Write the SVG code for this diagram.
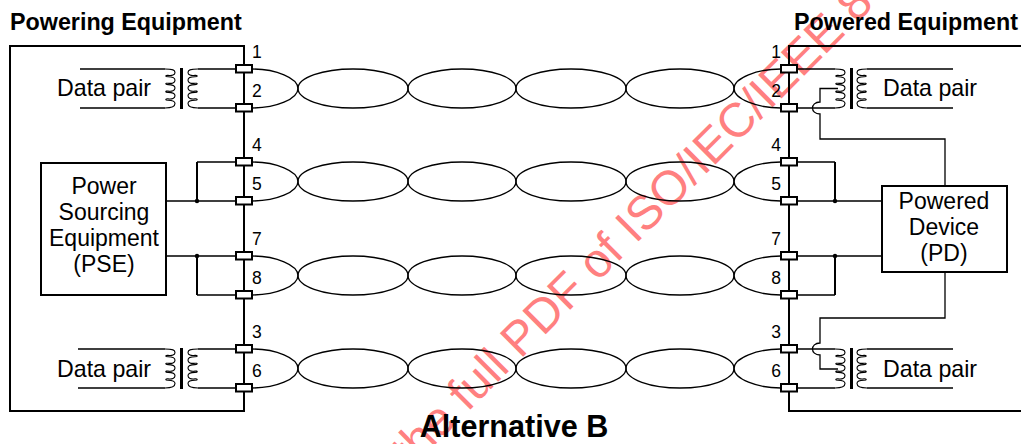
<svg xmlns="http://www.w3.org/2000/svg" xmlns:xlink="http://www.w3.org/1999/xlink" width="1021" height="444" viewBox="0 0 1021 444">
<style>
text{font-family:"Liberation Sans",Arial,sans-serif;fill:#000}
.t{font-size:23.2px}
.tm{font-size:23px;text-anchor:middle}
.b{font-size:23.3px;font-weight:bold}
.n{font-size:17.5px}
.ne{font-size:17.5px;text-anchor:end}
.w{fill:none;stroke:#000;stroke-width:1.3}
.h{fill:none;stroke:#000;stroke-width:2}
.c{fill:none;stroke:#000;stroke-width:1.1}
.box{fill:#fff;stroke:#000;stroke-width:2}
.core{fill:#000}
.wm{font-size:48px;fill:#ff8080}
</style>
<defs>
<path id="coilR" class="c" d="M0,0C8,0 10,1 10,3.4C10,6 7,7 3,6.4C0,6.2 0,7.8 3,7.8C8,7.8 10,8.8 10,11.2C10,13.8 7,14.8 3,14.2C0,14 0,15.6 3,15.6C8,15.6 10,16.6 10,19C10,21.6 7,22.6 3,22C0,21.8 0,23.4 3,23.4C8,23.4 10,24.4 10,26.8C10,29.4 7,30.4 3,29.8C0,29.6 0,31.2 3,31.2C8,31.2 10,32.2 10,34.6C10,37.2 8,39 0,39"/>
<path id="coilL" class="c" d="M10,0C2,0 0,1 0,3.4C0,6 3,7 7,6.4C10,6.2 10,7.8 7,7.8C2,7.8 0,8.8 0,11.2C0,13.8 3,14.8 7,14.2C10,14 10,15.6 7,15.6C2,15.6 0,16.6 0,19C0,21.6 3,22.6 7,22C10,21.8 10,23.4 7,23.4C2,23.4 0,24.4 0,26.8C0,29.4 3,30.4 7,29.8C10,29.6 10,31.2 7,31.2C2,31.2 0,32.2 0,34.6C0,37.2 2,39 10,39"/>
<g id="twist">
<path class="w" d="M252,0C276,0 298,9 298,19.5C298,30 276,39 252,39"/>
<ellipse class="w" cx="353" cy="19.5" rx="55" ry="19.5"/>
<ellipse class="w" cx="462" cy="19.5" rx="54" ry="19.5"/>
<ellipse class="w" cx="571" cy="19.5" rx="55" ry="19.5"/>
<ellipse class="w" cx="680" cy="19.5" rx="54" ry="19.5"/>
<path class="w" d="M781,0C757,0 734,9 734,19.5C734,30 757,39 781,39"/>
</g>
<g id="xfmrL">
<use xlink:href="#coilR" x="165"/>
<rect class="core" x="180" y="-1" width="3" height="41"/>
<use xlink:href="#coilL" x="188"/>
</g>
<g id="xfmrR">
<use xlink:href="#coilR" x="835"/>
<rect class="core" x="850" y="-1" width="3" height="41"/>
<use xlink:href="#coilL" x="857"/>
</g>
</defs>
<rect width="1021" height="444" fill="#fff"/>
<text class="wm" transform="translate(411,469) rotate(-45)">the full PDF of ISO/IEC/IEEE 8</text>
<g id="connectors">
<path class="h" d="M244,46H10V411H244ZM1021,46H789V411H1021"/>
<use xlink:href="#twist" y="69"/>
<use xlink:href="#twist" y="162"/>
<use xlink:href="#twist" y="256"/>
<use xlink:href="#twist" y="349"/>
<path class="w" d="M80,69H165M80,108H165M198,69H236M198,108H236M78,349H165M78,388H165M198,349H236M198,388H236"/>
<path class="w" d="M797,69H835M797,108H835M797,349H835M797,388H835M867,69H953M867,108H953M867,349H953M867,388H953"/>
<path class="w" d="M166,201H236M166,256H236M197,162H236M197,295H236M797,201H882M797,256H882M797,162H835M797,295H835"/>
<path class="h" d="M197,162V201M197,256V295M835,162V201M835,256V295"/>
<circle cx="197" cy="201" r="2.2" fill="#000"/>
<circle cx="197" cy="256" r="2.2" fill="#000"/>
<circle cx="835" cy="201" r="2.2" fill="#000"/>
<circle cx="835" cy="256" r="2.2" fill="#000"/>
<path class="w" d="M838,88.5H820V102C810,102 810,114 820,114V139H945V186"/>
<path class="w" d="M945,272V318H820V343C810,343 810,355 820,355V369H838"/>
</g>
<g id="ports">
<g class="box">
<rect x="236" y="65" width="16" height="7.5"/><rect x="236" y="104" width="16" height="7.5"/>
<rect x="236" y="158" width="16" height="7.5"/><rect x="236" y="197" width="16" height="7.5"/>
<rect x="236" y="252" width="16" height="7.5"/><rect x="236" y="291" width="16" height="7.5"/>
<rect x="236" y="345" width="16" height="7.5"/><rect x="236" y="384" width="16" height="7.5"/>
<rect x="781" y="65" width="16" height="7.5"/><rect x="781" y="104" width="16" height="7.5"/>
<rect x="781" y="158" width="16" height="7.5"/><rect x="781" y="197" width="16" height="7.5"/>
<rect x="781" y="252" width="16" height="7.5"/><rect x="781" y="291" width="16" height="7.5"/>
<rect x="781" y="345" width="16" height="7.5"/><rect x="781" y="384" width="16" height="7.5"/>
</g>
<text class="n" x="252" y="58">1</text><text class="n" x="252" y="97">2</text>
<text class="n" x="252" y="151">4</text><text class="n" x="252" y="190">5</text>
<text class="n" x="252" y="245">7</text><text class="n" x="252" y="284">8</text>
<text class="n" x="252" y="338">3</text><text class="n" x="252" y="377">6</text>
<text class="ne" x="781" y="58">1</text><text class="ne" x="781" y="97">2</text>
<text class="ne" x="781" y="151">4</text><text class="ne" x="781" y="190">5</text>
<text class="ne" x="781" y="245">7</text><text class="ne" x="781" y="284">8</text>
<text class="ne" x="781" y="338">3</text><text class="ne" x="781" y="377">6</text>
</g>
<g id="xfmr-left-top"><use xlink:href="#xfmrL" y="69"/><text class="t" x="57" y="96">Data pair</text></g>
<g id="xfmr-left-bottom"><use xlink:href="#xfmrL" y="349"/><text class="t" x="57" y="377">Data pair</text></g>
<g id="xfmr-right-top"><use xlink:href="#xfmrR" y="69"/><text class="t" x="883" y="96">Data pair</text></g>
<g id="xfmr-right-bottom"><use xlink:href="#xfmrR" y="349"/><text class="t" x="883" y="377">Data pair</text></g>
<g id="pse">
<rect class="box" x="41" y="163" width="125" height="132"/>
<text class="tm" x="104" y="194">Power</text><text class="tm" x="104" y="220">Sourcing</text><text class="tm" x="104" y="246">Equipment</text><text class="tm" x="104" y="272">(PSE)</text>
</g>
<g id="pd">
<rect class="box" x="882" y="186" width="125" height="86"/>
<text class="tm" x="944" y="209">Powered</text><text class="tm" x="944" y="235">Device</text><text class="tm" x="944" y="261">(PD)</text>
</g>
<g id="titles">
<text class="b" x="10" y="30">Powering Equipment</text>
<text class="b" x="794" y="30">Powered Equipment</text>
<text x="514" y="437" font-size="30.6" font-weight="bold" text-anchor="middle">Alternative B</text>
</g>
</svg>
